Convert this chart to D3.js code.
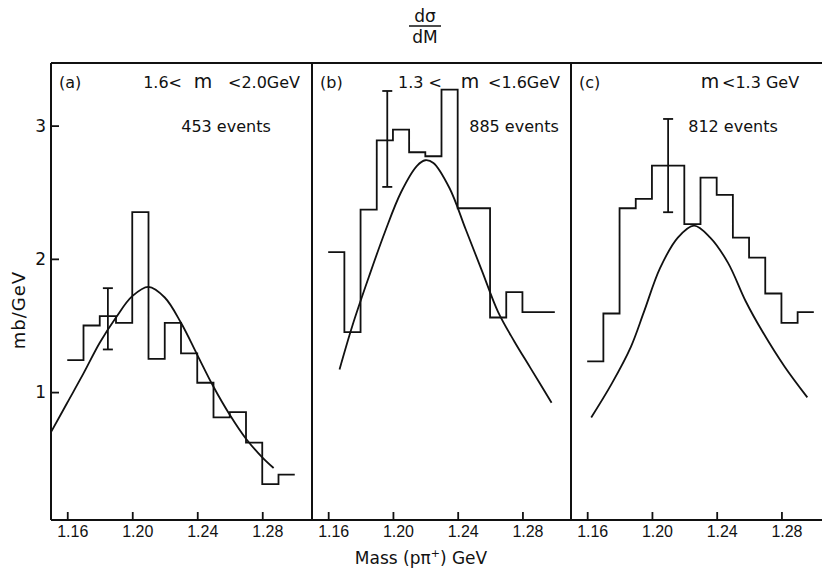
<!DOCTYPE html>
<html lang="en">
<head>
<meta charset="UTF-8">
<title>d&sigma;/dM vs Mass (p&pi;+)</title>
<script src="https://d3js.org/d3.v7.min.js"></script>
<style>
  body { margin: 0; background: #fff; }
  svg text { font-family: "DejaVu Sans", "Liberation Sans", sans-serif; fill: #111; }
  .frame { stroke: #111; stroke-width: 2; fill: none; }
  .hist { stroke: #111; stroke-width: 1.8; fill: none; }
  .fit { stroke: #111; stroke-width: 1.8; fill: none; }
</style>
</head>
<body>
<svg id="chart" width="822" height="569"></svg>
<script>
// histogram bins: lower edge in GeV, every bin 0.01 wide
const binLow = [1.16, 1.17, 1.18, 1.19, 1.20, 1.21, 1.22, 1.23, 1.24, 1.25, 1.26, 1.27, 1.28, 1.29];
const binWidth = 0.01;

// mb/GeV
const histA = [1.24, 1.50, 1.57, 1.52, 2.35, 1.25, 1.52, 1.29, 1.07, 0.81, 0.85, 0.62, 0.31, 0.38];
const histB = [2.05, 1.45, 2.37, 2.89, 2.97, 2.80, 2.77, 3.27, 2.38, 2.38, 1.56, 1.75, 1.60, 1.60];
const histC = [1.23, 1.59, 2.38, 2.45, 2.70, 2.70, 2.26, 2.61, 2.48, 2.16, 2.01, 1.74, 1.52, 1.60];

// fitted curves
const fitMassA = [1.150, 1.160, 1.170, 1.180, 1.190, 1.200, 1.210, 1.220, 1.230, 1.240, 1.250, 1.260, 1.270, 1.280, 1.287];
const fitValA  = [0.70, 0.92, 1.14, 1.37, 1.56, 1.72, 1.79, 1.71, 1.52, 1.28, 1.04, 0.83, 0.65, 0.51, 0.43];
const fitMassB = [1.167, 1.175, 1.185, 1.195, 1.205, 1.215, 1.220, 1.225, 1.235, 1.245, 1.255, 1.265, 1.275, 1.285, 1.298];
const fitValB  = [1.17, 1.50, 1.86, 2.20, 2.50, 2.70, 2.74, 2.72, 2.53, 2.22, 1.91, 1.60, 1.38, 1.18, 0.92];
const fitMassC = [1.1625, 1.175, 1.187, 1.195, 1.205, 1.216, 1.226, 1.236, 1.247, 1.258, 1.268, 1.282, 1.296];
const fitValC  = [0.81, 1.06, 1.34, 1.60, 1.93, 2.16, 2.25, 2.16, 1.97, 1.68, 1.46, 1.19, 0.96];

// one sample error bar per panel
const errMass = [1.185, 1.1965, 1.210];
const errLow  = [1.32, 2.54, 2.35];
const errHigh = [1.78, 3.26, 3.05];

const panelTags   = ["(a)", "(b)", "(c)"];
const rangeLow    = ["1.6<", "1.3 <", ""];
const rangeHigh   = ["<2.0GeV", "<1.6GeV", "<1.3 GeV"];
const eventLabels = ["453 events", "885 events", "812 events"];

const xTicks = [1.16, 1.20, 1.24, 1.28];
const yTicks = [1, 2, 3];
const massDomain = [1.15, 1.31];

const svg = d3.select("#chart");
const plotTop = 63, plotBottom = 520;
const panelLeft = [51, 312, 571];
const panelWidth = [260, 259, 259];

// label placement (px) for each panel header
const lowEnd = [182, 442, 0];
const mCenter = [203, 470, 710];
const highStart = [228, 488, 722];
const eventCenter = [226, 514, 733];

const y = d3.scaleLinear().domain([0.04, 3.47]).range([plotBottom, plotTop]);

const hists = [histA, histB, histC];
const fits = [[fitMassA, fitValA], [fitMassB, fitValB], [fitMassC, fitValC]];

// outer frame: top line and bottom axis line run across all panels
svg.append("line").attr("class", "frame")
  .attr("x1", panelLeft[0]).attr("x2", 822).attr("y1", plotTop).attr("y2", plotTop);
svg.append("line").attr("class", "frame")
  .attr("x1", panelLeft[0]).attr("x2", 822).attr("y1", plotBottom).attr("y2", plotBottom);

panelTags.forEach((tag, i) => {
  const x0 = panelLeft[i];
  const x = d3.scaleLinear().domain(massDomain).range([x0, x0 + panelWidth[i]]);
  const g = svg.append("g");

  // left border of the panel
  g.append("line").attr("class", "frame")
    .attr("x1", x0).attr("x2", x0).attr("y1", plotTop).attr("y2", plotBottom);

  // x axis ticks point into the plot
  const xa = g.append("g").attr("transform", `translate(0,${plotBottom})`)
    .call(d3.axisBottom(x).tickValues(xTicks).tickFormat(d3.format(".2f"))
      .tickSize(-8).tickSizeOuter(0).tickPadding(6));
  xa.select(".domain").remove();
  xa.selectAll(".tick line").attr("stroke", "#111").attr("stroke-width", 1.8);
  xa.selectAll(".tick text").attr("font-size", 16).attr("fill", "#111").attr("dx", 5)
    .style("font-family", '"Liberation Sans", sans-serif');

  if (i === 0) {
    const ya = g.append("g").attr("transform", `translate(${x0},0)`)
      .call(d3.axisLeft(y).tickValues(yTicks).tickFormat(d3.format("d"))
        .tickSize(-8).tickSizeOuter(0).tickPadding(5));
    ya.select(".domain").remove();
    ya.selectAll(".tick line").attr("stroke", "#111").attr("stroke-width", 1.8);
    ya.selectAll(".tick text").attr("font-size", 17).attr("fill", "#111")
      .style("font-family", '"DejaVu Sans", sans-serif');
  }

  // histogram as an open step line
  const pts = binLow.map((m, k) => [m, hists[i][k]]);
  pts.push([binLow[binLow.length - 1] + binWidth, hists[i][hists[i].length - 1]]);
  g.append("path").attr("class", "hist")
    .attr("d", d3.line().x(d => x(d[0])).y(d => y(d[1])).curve(d3.curveStepAfter)(pts));

  // fitted curve
  const [fm, fv] = fits[i];
  g.append("path").attr("class", "fit")
    .attr("d", d3.line().x(d => x(d[0])).y(d => y(d[1])).curve(d3.curveCatmullRom.alpha(0.5))(fm.map((m, k) => [m, fv[k]])));

  // error bar
  const ex = x(errMass[i]);
  g.append("line").attr("class", "hist").attr("x1", ex).attr("x2", ex)
    .attr("y1", y(errLow[i])).attr("y2", y(errHigh[i]));
  [errLow[i], errHigh[i]].forEach(v => {
    g.append("line").attr("class", "hist").attr("x1", ex - 5).attr("x2", ex + 5)
      .attr("y1", y(v)).attr("y2", y(v));
  });

  // labels
  g.append("text").attr("x", x0 + 8).attr("y", 88).attr("font-size", 16).text(tag);
  if (rangeLow[i]) {
    g.append("text").attr("x", lowEnd[i]).attr("y", 88).attr("font-size", 16)
      .attr("text-anchor", "end").text(rangeLow[i]);
  }
  g.append("text").attr("x", mCenter[i]).attr("y", 88).attr("font-size", 19)
    .attr("text-anchor", "middle").text("m");
  g.append("text").attr("x", highStart[i]).attr("y", 88).attr("font-size", 16).text(rangeHigh[i]);
  g.append("text").attr("x", eventCenter[i]).attr("y", 132).attr("font-size", 16)
    .attr("text-anchor", "middle").text(eventLabels[i]);
});

// title as a fraction
svg.append("text").attr("x", 425).attr("y", 22).attr("font-size", 17)
  .attr("text-anchor", "middle").text("dσ");
svg.append("line").attr("x1", 409).attr("x2", 441).attr("y1", 26).attr("y2", 26)
  .attr("stroke", "#111").attr("stroke-width", 1.5);
svg.append("text").attr("x", 425).attr("y", 43).attr("font-size", 17)
  .attr("text-anchor", "middle").text("dM");

// y axis label
svg.append("text").attr("transform", "translate(25,310) rotate(-90)")
  .attr("font-size", 18).attr("letter-spacing", 1).attr("text-anchor", "middle").text("mb/GeV");

// x axis label
const xl = svg.append("text").attr("x", 421).attr("y", 564).attr("font-size", 17)
  .attr("text-anchor", "middle");
xl.append("tspan").text("Mass (pπ");
xl.append("tspan").attr("dy", -7).attr("font-size", 11).text("+");
xl.append("tspan").attr("dy", 7).text(") GeV");
</script>
</body>
</html>
